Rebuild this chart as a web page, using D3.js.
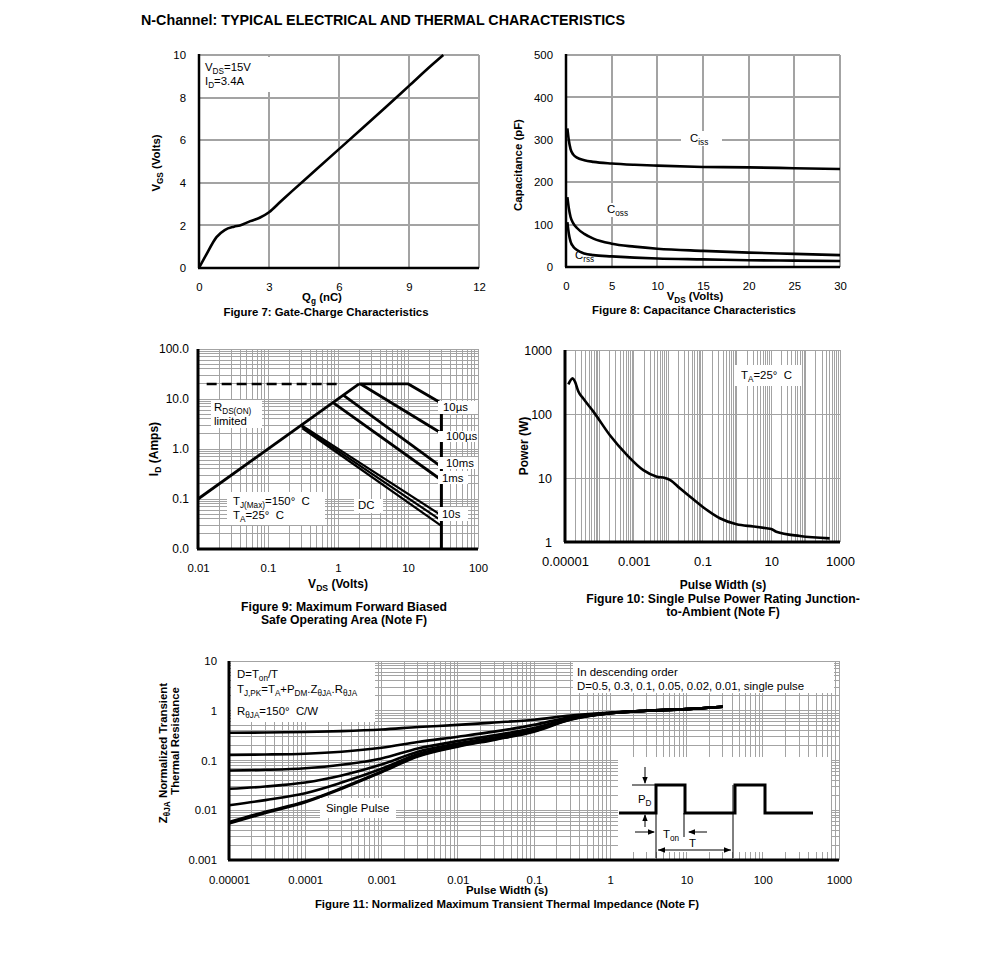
<!DOCTYPE html>
<html><head><meta charset="utf-8">
<script src="https://cdn.jsdelivr.net/npm/d3@7"></script>
<style>
body{margin:0;background:#fff;}
svg{font-family:"Liberation Sans",Arial,sans-serif;}
text{white-space:pre;}
</style></head><body>
<svg id="c" width="991" height="977"></svg>
<script>
// ---------------- DATA ----------------
// Figure 7: gate charge
const fig7XTicks = [0,3,6,9,12];
const fig7YTicks = [0,2,4,6,8,10];
const gateQ = [0,0.3,0.75,1.1,1.5,1.75,2.2,2.6,3.0,3.5,4.0,5.0,6.0,7.0,8.0,9.0,10.0,10.47];
const gateV = [0,0.6,1.45,1.78,1.94,2.0,2.2,2.36,2.62,3.12,3.62,4.6,5.58,6.56,7.55,8.55,9.55,10];

// Figure 8: capacitance
const fig8XTicks = [0,5,10,15,20,25,30];
const fig8YTicks = [0,100,200,300,400,500];
const capV = [0.15,0.3,0.5,0.8,1.2,2,3,5,7.5,10,15,20,25,30];
const ciss = [327,300,278,265,258,252,248,244,241,239,236,235,233,231];
const coss = [165,140,118,103,92,78,67,55,48,43,38,34,31,28];
const crss = [106,80,60,48,40,32,28,25,22,20,18,16,15,14];

// Figure 9: SOA  (each line: [V, I] points)
const fig9XTicks = [0.01,0.1,1,10,100];
const fig9XLabels = ['0.01','0.1','1','10','100'];
const fig9YTicks = [0.01,0.1,1,10,100];
const fig9YLabels = ['0.0','0.1','1.0','10.0','100.0'];
const soaRdsLimit = [[0.01,0.1],[2.0,20]];
const soaDashed = [[0.0133,20],[1.0,20]];
const soa10us = [[2.0,20],[10.1,20],[30,8.2]];
const soa100us = [[2.1,20],[30,2.06]];
const soa10ms = [[1.19,11.9],[30,0.44]];
const soa1ms = [[0.85,8.5],[30,0.24]];
const soa10s = [[0.30,3.0],[30,0.047]];
const soaDCa = [[0.305,2.8],[30,0.037]];
const soaDCb = [[0.31,2.6],[30,0.029]];
const soaVLimit = [[30,5.2],[30,0.01]];
const soaLabels = ['10\u00B5s','100\u00B5s','10ms','1ms','10s'];

// Figure 10: single pulse power
const fig10XTicks = [1e-5,1e-3,1e-1,10,1000];
const fig10XLabels = ['0.00001','0.001','0.1','10','1000'];
const fig10YTicks = [1,10,100,1000];
const pulseT = [1.25e-5,1.67e-5,1.95e-5,2.45e-5,3.4e-5,6.7e-5,2.0e-4,6.3e-4,1.9e-3,4.7e-3,8.1e-3,1.15e-2,2.2e-2,5.5e-2,0.1,0.32,0.98,3,7.3,10,14,68,500];
const pulseP = [290,360,320,224,174,109,47,23,13.3,10.5,10,9.3,6.9,4.6,3.56,2.35,1.89,1.75,1.64,1.6,1.45,1.24,1.14];

// Figure 11: transient thermal impedance
const fig11XTicks = [1e-5,1e-4,1e-3,1e-2,1e-1,1,10,100,1000];
const fig11XLabels = ['0.00001','0.0001','0.001','0.01','0.1','1','10','100','1000'];
const fig11YTicks = [0.001,0.01,0.1,1,10];
const fig11YLabels = ['0.001','0.01','0.1','1','10'];
const thermT  = [1e-5,3e-5,1e-4,3e-4,1e-3,3e-3,1e-2,3e-2,0.1,0.3,1,3,10,30];
const zD05    = [0.36,0.365,0.375,0.39,0.42,0.47,0.52,0.58,0.66,0.80,0.92,1.0,1.08,1.2];
const zD03    = [0.13,0.132,0.137,0.15,0.18,0.235,0.30,0.38,0.52,0.75,0.91,1.0,1.08,1.2];
const zD01    = [0.063,0.065,0.07,0.082,0.11,0.175,0.245,0.32,0.45,0.71,0.90,1.0,1.08,1.2];
const zD005   = [0.027,0.030,0.036,0.05,0.083,0.15,0.22,0.29,0.42,0.69,0.89,1.0,1.08,1.2];
const zD002   = [0.0126,0.016,0.022,0.036,0.068,0.135,0.205,0.275,0.40,0.68,0.89,1.0,1.08,1.2];
const zD001   = [0.0058,0.0093,0.015,0.028,0.06,0.125,0.195,0.265,0.39,0.67,0.89,1.0,1.08,1.2];
const zSingle = [0.0054,0.0088,0.0145,0.027,0.058,0.12,0.19,0.26,0.38,0.66,0.89,1.0,1.08,1.2];

// ---------------- HELPERS ----------------
const svg = d3.select('#c');
const FONT = '"Liberation Sans", Arial, sans-serif';
const GRID = '#a3a3a3';
const FS = 11.4;

function txt(g, x, y, s, o = {}) {
  const fs = o.size || FS;
  const t = g.append('text').attr('x', x).attr('y', y)
    .attr('font-size', fs).attr('font-family', FONT)
    .attr('font-weight', o.bold ? 'bold' : 'normal')
    .attr('text-anchor', o.anchor || 'start').attr('fill', '#000');
  if (o.rotate) t.attr('transform', `rotate(${o.rotate},${x},${y})`);
  const parts = s.split(/(_\{[^}]*\})/);
  let sub = false;
  parts.forEach(p => {
    if (!p) return;
    const m = p.match(/^_\{(.*)\}$/);
    if (m) { t.append('tspan').attr('dy', fs * 0.28).attr('font-size', fs * 0.72).text(m[1]); sub = true; }
    else { const ts = t.append('tspan').text(p); if (sub) { ts.attr('dy', -fs * 0.28); sub = false; } }
  });
  return t;
}
function box(g, x, y, w, h) {
  g.append('rect').attr('x', x).attr('y', y).attr('width', w).attr('height', h).attr('fill', '#fff');
}
function gridV(g, vals, sx, y0, y1, w = 1, c = GRID) {
  g.append('g').selectAll('line').data(vals).join('line')
    .attr('x1', d => sx(d)).attr('x2', d => sx(d)).attr('y1', y0).attr('y2', y1)
    .attr('stroke', c).attr('stroke-width', w).attr('shape-rendering', 'crispEdges');
}
function gridH(g, vals, sy, x0, x1, w = 1, c = GRID) {
  g.append('g').selectAll('line').data(vals).join('line')
    .attr('y1', d => sy(d)).attr('y2', d => sy(d)).attr('x1', x0).attr('x2', x1)
    .attr('stroke', c).attr('stroke-width', w).attr('shape-rendering', 'crispEdges');
}
function axesLines(g, x0, x1, y0, y1, w = 2.5) {
  g.append('line').attr('x1', x0).attr('x2', x0).attr('y1', y0).attr('y2', y1).attr('stroke', '#000').attr('stroke-width', w);
  g.append('line').attr('x1', x0 - 1).attr('x2', x1).attr('y1', y1).attr('y2', y1).attr('stroke', '#000').attr('stroke-width', w);
}
function bottomLabels(g, sx, ticks, labels, y, pad, fs = FS) {
  const a = d3.axisBottom(sx).tickValues(ticks).tickSize(0).tickPadding(pad)
    .tickFormat((d, i) => labels ? labels[i] : d);
  const ag = g.append('g').attr('transform', `translate(0,${y})`).call(a);
  ag.select('.domain').remove();
  ag.attr('font-size', fs).attr('font-family', FONT);
  ag.selectAll('text').attr('fill', '#000');
}
function leftLabels(g, sy, ticks, labels, x, pad, fs = FS) {
  const a = d3.axisLeft(sy).tickValues(ticks).tickSize(0).tickPadding(pad)
    .tickFormat((d, i) => labels ? labels[i] : d);
  const ag = g.append('g').attr('transform', `translate(${x},0)`).call(a);
  ag.select('.domain').remove();
  ag.attr('font-size', fs).attr('font-family', FONT);
  ag.selectAll('text').attr('fill', '#000');
}
function logMinor(scale) { return scale.ticks(50).filter(d => d > 0); }

// Title
txt(svg, 141, 25, 'N-Channel: TYPICAL ELECTRICAL AND THERMAL CHARACTERISTICS', {size: 14.3, bold: true});

// ---------------- FIGURE 7 ----------------
{
  const g = svg.append('g');
  const X0 = 199, X1 = 479, Y0 = 55, Y1 = 268;
  const x = d3.scaleLinear().domain([0, 12]).range([X0, X1]);
  const y = d3.scaleLinear().domain([0, 10]).range([Y1, Y0]);
  gridV(g, fig7XTicks.slice(1), x, Y0, Y1, 2);
  gridH(g, fig7YTicks.slice(1), y, X0, X1, 2);
  box(g, 201, 57, 74, 35);
  axesLines(g, X0, X1, Y0 - 1, Y1, 2.5);
  const line = d3.line().x(d => x(d[0])).y(d => y(d[1])).curve(d3.curveMonotoneX);
  g.append('path').datum(gateQ.map((q, i) => [q, gateV[i]])).attr('d', line)
    .attr('fill', 'none').attr('stroke', '#000').attr('stroke-width', 2.6);
  txt(g, 205, 71, 'V_{DS}=15V');
  txt(g, 205, 85, 'I_{D}=3.4A');
  bottomLabels(g, x, fig7XTicks, null, Y1, 15);
  leftLabels(g, y, fig7YTicks, null, X0, 13);
  txt(g, 160, 163, 'V_{GS} (Volts)', {bold: true, anchor: 'middle', rotate: -90});
  txt(g, 322, 301, 'Q_{g} (nC)', {bold: true, anchor: 'middle'});
  txt(g, 326, 316, 'Figure 7: Gate-Charge Characteristics', {bold: true, anchor: 'middle'});
}

// ---------------- FIGURE 8 ----------------
{
  const g = svg.append('g');
  const X0 = 566, X1 = 840, Y0 = 55, Y1 = 267;
  const x = d3.scaleLinear().domain([0, 30]).range([X0, X1]);
  const y = d3.scaleLinear().domain([0, 500]).range([Y1, Y0]);
  gridV(g, fig8XTicks.slice(1), x, Y0, Y1, 2);
  gridH(g, fig8YTicks.slice(1), y, X0, X1, 2);
  axesLines(g, X0, X1, Y0 - 1, Y1, 2.5);
  const line = d3.line().x(d => x(d[0])).y(d => y(d[1])).curve(d3.curveMonotoneX);
  [ciss, coss, crss].forEach(arr => {
    g.append('path').datum(capV.map((v, i) => [v, arr[i]])).attr('d', line)
      .attr('fill', 'none').attr('stroke', '#000').attr('stroke-width', 2.6);
  });
  box(g, 681, 131, 41, 15);
  txt(g, 690, 142, 'C_{iss}');
  box(g, 600, 203, 30, 14);
  txt(g, 607, 213, 'C_{oss}');
  txt(g, 575, 259, 'C_{rss}');
  bottomLabels(g, x, fig8XTicks, null, Y1, 15);
  leftLabels(g, y, fig8YTicks, null, X0, 13);
  txt(g, 522, 165, 'Capacitance (pF)', {bold: true, anchor: 'middle', rotate: -90});
  txt(g, 695, 300, 'V_{DS} (Volts)', {bold: true, anchor: 'middle'});
  txt(g, 694, 314, 'Figure 8: Capacitance Characteristics', {bold: true, anchor: 'middle'});
}

// ---------------- FIGURE 9 ----------------
{
  const g = svg.append('g');
  const X0 = 198, X1 = 478, Y0 = 349, Y1 = 549;
  const x = d3.scaleLog().domain([0.01, 100]).range([X0, X1]);
  const y = d3.scaleLog().domain([0.01, 100]).range([Y1, Y0]);
  gridV(g, logMinor(x), x, Y0, Y1, 1);
  gridH(g, logMinor(y), y, X0, X1, 1);
  const line = d3.line().x(d => x(d[0])).y(d => y(d[1]));
  const draw = (arr, w, dash) => {
    const p = g.append('path').datum(arr).attr('d', line).attr('fill', 'none')
      .attr('stroke', '#000').attr('stroke-width', w);
    if (dash) p.attr('stroke-dasharray', '10,5');
  };
  draw(soaDashed, 2.6, true);
  [soaRdsLimit, soa10us, soa100us, soa10ms, soa1ms].forEach(a => draw(a, 2.8));
  [soa10s, soaDCa, soaDCb].forEach(a => draw(a, 2.2));
  g.append('path').datum(soaVLimit).attr('d', line).attr('stroke', '#000').attr('stroke-width', 3);
  // label boxes
  box(g, 211, 400, 51, 28);
  txt(g, 214, 411, 'R_{DS(ON)}');
  txt(g, 214, 425, 'limited');
  box(g, 227, 492, 98, 33);
  txt(g, 233, 505, 'T_{J(Max)}=150\u00B0  C');
  txt(g, 233, 519, 'T_{A}=25\u00B0  C');
  box(g, 354, 499, 29, 14);
  txt(g, 358, 509, 'DC');
  const lblOff = [[438, 401, 40, 13, 443, 411], [438, 431, 40, 11, 446, 440], [438, 457, 40, 12, 446, 467],
                  [438, 471, 30, 13, 442, 482], [438, 507, 30, 14, 442, 518]];
  soaLabels.forEach((l, i) => {
    const o = lblOff[i];
    box(g, o[0], o[1], o[2], o[3]);
    txt(g, o[4], o[5], l);
  });
  axesLines(g, X0, X1, Y0, Y1, 3);
  bottomLabels(g, x, fig9XTicks, fig9XLabels, Y1, 15);
  leftLabels(g, y, fig9YTicks, fig9YLabels, X0, 9, 12);
  txt(g, 158, 449, 'I_{D} (Amps)', {bold: true, anchor: 'middle', rotate: -90, size: 12});
  txt(g, 338, 588, 'V_{DS} (Volts)', {bold: true, anchor: 'middle', size: 12});
  txt(g, 344, 611, 'Figure 9: Maximum Forward Biased', {bold: true, anchor: 'middle', size: 12.2});
  txt(g, 344, 624, 'Safe Operating Area (Note F)', {bold: true, anchor: 'middle', size: 12.2});
}

// ---------------- FIGURE 10 ----------------
{
  const g = svg.append('g');
  const X0 = 565, X1 = 840, Y0 = 350, Y1 = 542;
  const x = d3.scaleLog().domain([1e-5, 1000]).range([X0, X1]);
  const y = d3.scaleLog().domain([1, 1000]).range([Y1, Y0]);
  gridV(g, logMinor(x), x, Y0, Y1, 1);
  gridH(g, [10, 100, 1000], y, X0, X1, 1);
  const line = d3.line().x(d => x(d[0])).y(d => y(d[1])).curve(d3.curveMonotoneX);
  g.append('path').datum(pulseT.map((t, i) => [t, pulseP[i]])).attr('d', line)
    .attr('fill', 'none').attr('stroke', '#000').attr('stroke-width', 2.6);
  box(g, 735, 365, 66, 21);
  txt(g, 741, 379, 'T_{A}=25\u00B0  C');
  axesLines(g, X0, X1, Y0, Y1, 3);
  bottomLabels(g, x, fig10XTicks, fig10XLabels, Y1, 15, 13);
  leftLabels(g, y, fig10YTicks, null, X0, 13, 12.5);
  txt(g, 528, 446, 'Power (W)', {bold: true, anchor: 'middle', rotate: -90, size: 12});
  txt(g, 723, 589, 'Pulse Width (s)', {bold: true, anchor: 'middle', size: 12});
  txt(g, 723, 603, 'Figure 10: Single Pulse Power Rating Junction-', {bold: true, anchor: 'middle', size: 12.2});
  txt(g, 723, 616, 'to-Ambient (Note F)', {bold: true, anchor: 'middle', size: 12.2});
}

// ---------------- FIGURE 11 ----------------
{
  const g = svg.append('g');
  const X0 = 229, X1 = 839, Y0 = 661, Y1 = 860;
  const x = d3.scaleLog().domain([1e-5, 1000]).range([X0, X1]);
  const y = d3.scaleLog().domain([0.001, 10]).range([Y1, Y0]);
  gridV(g, logMinor(x), x, Y0, Y1, 1);
  gridH(g, logMinor(y), y, X0, X1, 1);
  const line = d3.line().x(d => x(d[0])).y(d => y(d[1])).curve(d3.curveMonotoneX);
  [zD05, zD03, zD01, zD005, zD002, zD001, zSingle].forEach(arr => {
    g.append('path').datum(thermT.map((t, i) => [t, arr[i]])).attr('d', line)
      .attr('fill', 'none').attr('stroke', '#000').attr('stroke-width', 2.6);
  });
  // text boxes
  box(g, 231, 662, 144, 60);
  txt(g, 237, 678, 'D=T_{on}/T');
  txt(g, 237, 693, 'T_{J,PK}=T_{A}+P_{DM}.Z_{\u03B8JA}.R_{\u03B8JA}');
  txt(g, 237, 715, 'R_{\u03B8JA}=150\u00B0  C/W');
  box(g, 573, 662, 261, 31);
  txt(g, 577, 676, 'In descending order');
  txt(g, 577, 690, 'D=0.5, 0.3, 0.1, 0.05, 0.02, 0.01, single pulse');
  box(g, 320, 798, 76, 20);
  txt(g, 326, 812, 'Single Pulse');
  // inset pulse diagram
  const ox = 618, oy = 757;
  box(g, ox, oy, 213, 95);
  const ip = g.append('g').attr('transform', `translate(${ox},${oy})`);
  const base = 56, high = 28;
  const wave = [[1, base], [38, base], [38, high], [67, high], [67, base], [117, base], [117, high], [147, high], [147, base], [195, base]];
  ip.append('path').attr('d', d3.line()(wave)).attr('fill', 'none').attr('stroke', '#000').attr('stroke-width', 3);
  const thin = (x1, y1, x2, y2) => ip.append('line').attr('x1', x1).attr('y1', y1).attr('x2', x2).attr('y2', y2).attr('stroke', '#000').attr('stroke-width', 1);
  const head = (px, py, dir) => {
    const s = 4, l = 7;
    let pts;
    if (dir === 'down') pts = [[px, py], [px - s / 1.5, py - l], [px + s / 1.5, py - l]];
    if (dir === 'up') pts = [[px, py], [px - s / 1.5, py + l], [px + s / 1.5, py + l]];
    if (dir === 'right') pts = [[px, py], [px - l, py - s / 1.5], [px - l, py + s / 1.5]];
    if (dir === 'left') pts = [[px, py], [px + l, py - s / 1.5], [px + l, py + s / 1.5]];
    ip.append('path').attr('d', d3.line()(pts) + 'Z').attr('fill', '#000');
  };
  thin(14, high, 38, high);
  thin(27, 10, 27, high - 2); head(27, high - 1, 'down');
  thin(27, base + 14, 27, base + 2); head(27, base + 1, 'up');
  txt(ip, 20, 46, 'P_{D}');
  thin(38, high, 38, 101);
  thin(66, base, 66, 80);
  thin(115, high, 115, 101);
  thin(17, 75, 36, 75); head(37, 75, 'right');
  thin(89, 75, 71, 75); head(70, 75, 'left');
  txt(ip, 45, 81, 'T_{on}');
  thin(40, 93, 113, 93); head(40, 93, 'left'); head(113, 93, 'right');
  txt(ip, 71, 90, 'T');
  axesLines(g, X0, X1, Y0, Y1, 3);
  bottomLabels(g, x, fig11XTicks, fig11XLabels, Y1, 16);
  leftLabels(g, y, fig11YTicks, fig11YLabels, X0, 12);
  txt(g, 167, 753, 'Z_{\u03B8JA} Normalized Transient', {bold: true, anchor: 'middle', rotate: -90});
  txt(g, 179, 741, 'Thermal Resistance', {bold: true, anchor: 'middle', rotate: -90});
  txt(g, 507, 894, 'Pulse Width (s)', {bold: true, anchor: 'middle'});
  txt(g, 507, 908, 'Figure 11: Normalized Maximum Transient Thermal Impedance (Note F)', {bold: true, anchor: 'middle'});
}
</script>
</body></html>
